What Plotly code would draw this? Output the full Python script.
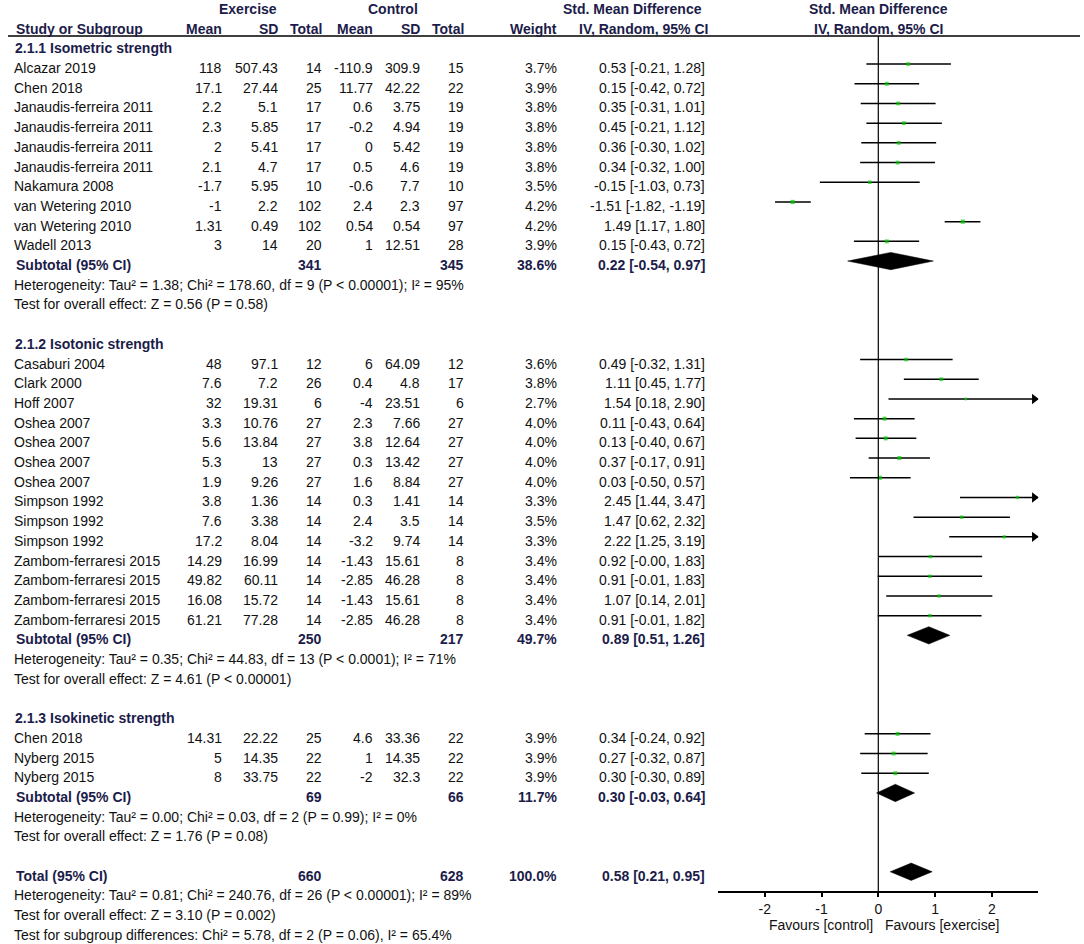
import plotly.graph_objects as go

# ---------------- data ----------------
study = ["Alcazar 2019", "Chen 2018", "Janaudis-ferreira 2011", "Janaudis-ferreira 2011",
         "Janaudis-ferreira 2011", "Janaudis-ferreira 2011", "Nakamura 2008", "van Wetering 2010",
         "van Wetering 2010", "Wadell 2013",
         "Casaburi 2004", "Clark 2000", "Hoff 2007", "Oshea 2007", "Oshea 2007", "Oshea 2007",
         "Oshea 2007", "Simpson 1992", "Simpson 1992", "Simpson 1992", "Zambom-ferraresi 2015",
         "Zambom-ferraresi 2015", "Zambom-ferraresi 2015", "Zambom-ferraresi 2015",
         "Chen 2018", "Nyberg 2015", "Nyberg 2015"]
group = [0] * 10 + [1] * 14 + [2] * 3
mean_e = [118, 17.1, 2.2, 2.3, 2, 2.1, -1.7, -1, 1.31, 3,
          48, 7.6, 32, 3.3, 5.6, 5.3, 1.9, 3.8, 7.6, 17.2, 14.29, 49.82, 16.08, 61.21,
          14.31, 5, 8]
sd_e = [507.43, 27.44, 5.1, 5.85, 5.41, 4.7, 5.95, 2.2, 0.49, 14,
        97.1, 7.2, 19.31, 10.76, 13.84, 13, 9.26, 1.36, 3.38, 8.04, 16.99, 60.11, 15.72, 77.28,
        22.22, 14.35, 33.75]
n_e = [14, 25, 17, 17, 17, 17, 10, 102, 102, 20,
       12, 26, 6, 27, 27, 27, 27, 14, 14, 14, 14, 14, 14, 14,
       25, 22, 22]
mean_c = [-110.9, 11.77, 0.6, -0.2, 0, 0.5, -0.6, 2.4, 0.54, 1,
          6, 0.4, -4, 2.3, 3.8, 0.3, 1.6, 0.3, 2.4, -3.2, -1.43, -2.85, -1.43, -2.85,
          4.6, 1, -2]
sd_c = [309.9, 42.22, 3.75, 4.94, 5.42, 4.6, 7.7, 2.3, 0.54, 12.51,
        64.09, 4.8, 23.51, 7.66, 12.64, 13.42, 8.84, 1.41, 3.5, 9.74, 15.61, 46.28, 15.61, 46.28,
        33.36, 14.35, 32.3]
n_c = [15, 22, 19, 19, 19, 19, 10, 97, 97, 28,
       12, 17, 6, 27, 27, 27, 27, 14, 14, 14, 8, 8, 8, 8,
       22, 22, 22]
weight = [3.7, 3.9, 3.8, 3.8, 3.8, 3.8, 3.5, 4.2, 4.2, 3.9,
          3.6, 3.8, 2.7, 4.0, 4.0, 4.0, 4.0, 3.3, 3.5, 3.3, 3.4, 3.4, 3.4, 3.4,
          3.9, 3.9, 3.9]
smd = [0.53, 0.15, 0.35, 0.45, 0.36, 0.34, -0.15, -1.51, 1.49, 0.15,
       0.49, 1.11, 1.54, 0.11, 0.13, 0.37, 0.03, 2.45, 1.47, 2.22, 0.92, 0.91, 1.07, 0.91,
       0.34, 0.27, 0.30]
ci_lo = [-0.21, -0.42, -0.31, -0.21, -0.30, -0.32, -1.03, -1.82, 1.17, -0.43,
         -0.32, 0.45, 0.18, -0.43, -0.40, -0.17, -0.50, 1.44, 0.62, 1.25, -0.0, -0.01, 0.14, -0.01,
         -0.24, -0.32, -0.30]
ci_hi = [1.28, 0.72, 1.01, 1.12, 1.02, 1.00, 0.73, -1.19, 1.80, 0.72,
         1.31, 1.77, 2.90, 0.64, 0.67, 0.91, 0.57, 3.47, 2.32, 3.19, 1.83, 1.83, 2.01, 1.82,
         0.92, 0.87, 0.89]

sub_title = ["2.1.1 Isometric strength", "2.1.2 Isotonic strength", "2.1.3 Isokinetic strength"]
sub_n_e = [341, 250, 69]
sub_n_c = [345, 217, 66]
sub_weight = [38.6, 49.7, 11.7]
sub_smd = [0.22, 0.89, 0.30]
sub_lo = [-0.54, 0.51, -0.03]
sub_hi = [0.97, 1.26, 0.64]
sub_het = ["Heterogeneity: Tau² = 1.38; Chi² = 178.60, df = 9 (P < 0.00001); I² = 95%",
           "Heterogeneity: Tau² = 0.35; Chi² = 44.83, df = 13 (P < 0.0001); I² = 71%",
           "Heterogeneity: Tau² = 0.00; Chi² = 0.03, df = 2 (P = 0.99); I² = 0%"]
sub_test = ["Test for overall effect: Z = 0.56 (P = 0.58)",
            "Test for overall effect: Z = 4.61 (P < 0.00001)",
            "Test for overall effect: Z = 1.76 (P = 0.08)"]

total_n_e, total_n_c, total_weight = 660, 628, 100.0
total_smd, total_lo, total_hi = 0.58, 0.21, 0.95
total_notes = ["Heterogeneity: Tau² = 0.81; Chi² = 240.76, df = 26 (P < 0.00001); I² = 89%",
               "Test for overall effect: Z = 3.10 (P = 0.002)",
               "Test for subgroup differences: Chi² = 5.78, df = 2 (P = 0.06), I² = 65.4%"]

tick_vals = [-2, -1, 0, 1, 2]
tick_text = ["-2", "-1", "0", "1", "2"]
favours_left = "Favours [control]"
favours_right = "Favours [exercise]"

# ---------------- layout geometry (window pixels) ----------------
W, H = 1084, 944
OFF = 0                          # body margin removed by post_script
ROW0, ROW = 48.3, 19.7           # window pixel centre of row 0, row pitch
XMIN, XMAX = -2.82, 2.82
X0PX, X1PX = 718.3, 1038.3
PX_PER_UNIT = (X1PX - X0PX) / (XMAX - XMIN)
AXIS_PX = 891.7
HEADER_LINE_PX = 36
MARK_SHIFT = -0.2


def rk(px):             # window pixel -> row units
    return (px - ROW0) / ROW


def fx(px):             # window pixel -> paper x
    return (px - OFF) / W


def fy(px):             # window pixel -> paper y
    return 1 - (px - OFF) / H


FONT = "Arial, 'Liberation Sans', sans-serif"
TXT = "#111111"
NAVY = "#1c1c4a"
COL = dict(name=14.3, mean_e=221.7, sd_e=277.7, n_e=321.7, mean_c=372.7, sd_c=420,
           n_c=464, w=556.5, ci=705)

ann = []


def T(x, k, s, anchor="right", bold=False, xref="paper"):
    ann.append(dict(x=fx(x) if xref == "paper" else x, xref=xref, y=k, yref="y",
                    text=("<b>%s</b>" % s if bold else s), showarrow=False,
                    xanchor=anchor, yanchor="middle", borderpad=0, borderwidth=0,
                    font=dict(family=FONT, size=14, color=NAVY if bold else TXT)))


def g(v):
    return f"{v:g}"


def ci_text(m, lo, hi):
    return f"{m:.2f} [{lo:.2f}, {hi:.2f}]"


# headers
T(248.3, -2, "Exercise", "center", True)
T(393.3, -2, "Control", "center", True)
T(632.3, -2, "Std. Mean Difference", "center", True)
T(0, -2, "Std. Mean Difference", "center", True, xref="x")
T(16, -1, "Study or Subgroup", "left", True)
for key, lab in [("mean_e", "Mean"), ("sd_e", "SD"), ("n_e", "Total"), ("mean_c", "Mean"),
                 ("sd_c", "SD"), ("n_c", "Total"), ("w", "Weight")]:
    T(COL[key], -1, lab, "right", True)
T(643.7, -1, "IV, Random, 95% CI", "center", True)
T(0, -1, "IV, Random, 95% CI", "center", True, xref="x")

# rows
study_k, diamonds = [], []
k = 0
for gi in range(len(sub_title)):
    T(15, k, sub_title[gi], "left", True)
    k += 1
    for i in range(len(study)):
        if group[i] != gi:
            continue
        T(COL["name"], k, study[i], "left")
        T(COL["mean_e"], k, g(mean_e[i]))
        T(COL["sd_e"], k, g(sd_e[i]))
        T(COL["n_e"], k, g(n_e[i]))
        T(COL["mean_c"], k, g(mean_c[i]))
        T(COL["sd_c"], k, g(sd_c[i]))
        T(COL["n_c"], k, g(n_c[i]))
        T(COL["w"], k, f"{weight[i]:.1f}%")
        T(COL["ci"], k, ci_text(smd[i], ci_lo[i], ci_hi[i]))
        study_k.append(k)
        k += 1
    T(16, k, "Subtotal (95% CI)", "left", True)
    T(COL["n_e"], k, g(sub_n_e[gi]), bold=True)
    T(COL["n_c"], k, g(sub_n_c[gi]), bold=True)
    T(COL["w"], k, f"{sub_weight[gi]:.1f}%", bold=True)
    T(COL["ci"], k, ci_text(sub_smd[gi], sub_lo[gi], sub_hi[gi]), bold=True)
    diamonds.append((k, sub_smd[gi], sub_lo[gi], sub_hi[gi]))
    k += 1
    T(COL["name"], k, sub_het[gi], "left")
    k += 1
    T(COL["name"], k, sub_test[gi], "left")
    k += 2

T(16, k, "Total (95% CI)", "left", True)
T(COL["n_e"], k, g(total_n_e), bold=True)
T(COL["n_c"], k, g(total_n_c), bold=True)
T(COL["w"], k, f"{total_weight:.1f}%", bold=True)
T(COL["ci"], k, ci_text(total_smd, total_lo, total_hi), bold=True)
diamonds.append((k, total_smd, total_lo, total_hi))
for note in total_notes:
    k += 1
    T(COL["name"], k, note, "left")

# favours labels
fav_k = rk(925)
ann.append(dict(x=-0.1, xref="x", y=fav_k, yref="y", text=favours_left, showarrow=False,
                xanchor="right", yanchor="middle", borderpad=0, borderwidth=0,
                font=dict(family=FONT, size=14, color=TXT)))
ann.append(dict(x=0.11, xref="x", y=fav_k, yref="y", text=favours_right, showarrow=False,
                xanchor="left", yanchor="middle", borderpad=0, borderwidth=0,
                font=dict(family=FONT, size=14, color=TXT)))

fig = go.Figure()

# CI lines
lx, ly, arrows_x, arrows_y = [], [], [], []
for i, kk in enumerate(study_k):
    y = kk + MARK_SHIFT
    lo = max(ci_lo[i], XMIN)
    hi = min(ci_hi[i], XMAX)
    lx += [lo, hi, None]
    ly += [y, y, None]
    if ci_hi[i] > XMAX:
        arrows_x.append(XMAX - 4 / PX_PER_UNIT)
        arrows_y.append(y)
fig.add_trace(go.Scatter(x=lx, y=ly, mode="lines", line=dict(color="black", width=1.5),
                         hoverinfo="skip"))
fig.add_trace(go.Scatter(x=arrows_x, y=arrows_y, mode="markers",
                         marker=dict(symbol="triangle-right", size=9, color="black",
                                     line=dict(width=0)), hoverinfo="skip"))
# point estimates
fig.add_trace(go.Scatter(x=smd, y=[kk + MARK_SHIFT for kk in study_k], mode="markers",
                         marker=dict(symbol="square", color="#00cc00",
                                     size=[w * 1.0 for w in weight], line=dict(width=0))))
# diamonds
HH = 0.44
for (kk, m, lo, hi) in diamonds:
    y = kk + MARK_SHIFT
    fig.add_trace(go.Scatter(x=[lo, m, hi, m, lo], y=[y, y - HH, y, y + HH, y], mode="lines",
                             fill="toself", fillcolor="black", line=dict(color="black", width=0.5),
                             hoverinfo="skip"))

shapes = [
    dict(type="line", xref="paper", yref="paper", x0=fx(8), x1=fx(1080),
         y0=fy(HEADER_LINE_PX), y1=fy(HEADER_LINE_PX), line=dict(color="black", width=1.5)),
    dict(type="line", xref="x", yref="paper", x0=0, x1=0,
         y0=fy(HEADER_LINE_PX), y1=fy(AXIS_PX), line=dict(color="black", width=1.2)),
]

fig.update_layout(
    width=W, height=H, margin=dict(l=0, r=0, t=0, b=0),
    paper_bgcolor="white", plot_bgcolor="white", showlegend=False,
    annotations=ann, shapes=shapes,
    xaxis=dict(domain=[fx(X0PX), fx(X1PX)], range=[XMIN, XMAX], anchor="free",
               position=fy(AXIS_PX), showline=True, linecolor="black", linewidth=1.5,
               ticks="outside", ticklen=5, tickwidth=1.5, tickcolor="black",
               tickvals=tick_vals, ticktext=tick_text,
               tickfont=dict(family=FONT, size=14, color=TXT),
               showgrid=False, zeroline=False, fixedrange=True),
    yaxis=dict(domain=[0, 1], range=[rk(H + OFF), rk(OFF)], visible=False, fixedrange=True),
)

fig.write_html("out.html", config={"displayModeBar": False},
               post_script="document.body.style.margin='0';document.body.style.overflow='hidden';")
